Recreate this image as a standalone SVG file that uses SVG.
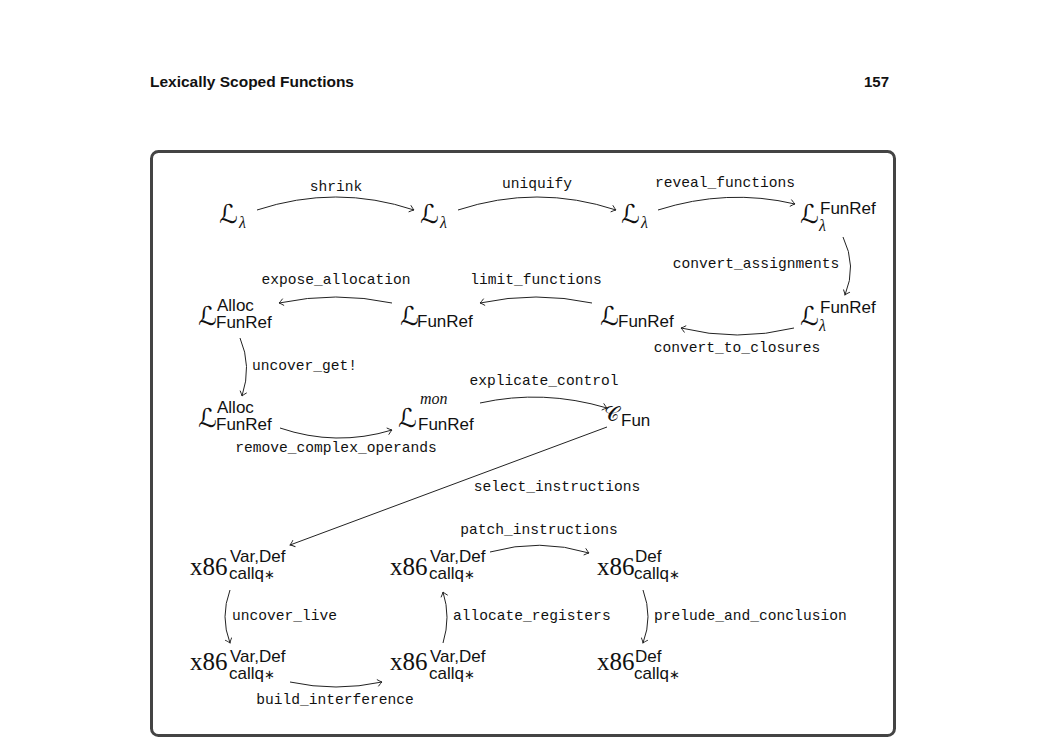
<svg xmlns="http://www.w3.org/2000/svg" width="1050" height="753" viewBox="0 0 1050 753">
<defs>
<style>
.cal{font-family:"DejaVu Serif","DejaVu Sans",serif;font-size:26px;fill:#111}
.calc{font-family:"DejaVu Serif","DejaVu Sans",serif;font-size:21px;fill:#111}
.sf{font-family:"Liberation Sans",Arial,sans-serif;font-size:17px;fill:#111}
.ast{font-size:13px}
.mi{font-family:"Liberation Serif","Times New Roman",serif;font-style:italic;font-size:16px;fill:#111}
.x86{font-family:"Liberation Serif","Times New Roman",serif;font-size:25px;fill:#111}
.lbl{font-family:"Liberation Mono","Courier New",monospace;font-size:14.6px;fill:#111}
.hdr{font-family:"Liberation Sans",Arial,sans-serif;font-weight:bold;font-size:15px;fill:#111}
.edge{fill:none;stroke:#222;stroke-width:1;marker-end:url(#ah)}
</style>
<marker id="ah" markerUnits="userSpaceOnUse" markerWidth="10" markerHeight="10" viewBox="-6 -5 8 10" refX="0" refY="0" orient="auto">
<path d="M-4.5,-3.5 Q-1.5,-0.8 0,0 Q-1.5,0.8 -4.5,3.5" fill="none" stroke="#222" stroke-width="0.9"/>
</marker>
</defs>
<rect width="1050" height="753" fill="#fff"/>
<text class="hdr" x="150" y="87" textLength="204" lengthAdjust="spacingAndGlyphs">Lexically Scoped Functions</text>
<text class="hdr" x="889" y="87" text-anchor="end">157</text>
<rect x="151.5" y="151.5" width="743" height="584" rx="7" fill="none" stroke="#444" stroke-width="3"/>

<g id="n1"><text class="cal" x="219" y="223">ℒ</text><text class="mi" x="239" y="228">λ</text></g>
<g id="n2"><text class="cal" x="420" y="223">ℒ</text><text class="mi" x="440" y="228">λ</text></g>
<g id="n3"><text class="cal" x="621" y="223">ℒ</text><text class="mi" x="641" y="228">λ</text></g>
<g id="n4"><text class="cal" x="800" y="223">ℒ</text><text class="sf" x="820" y="214">FunRef</text><text class="mi" x="819" y="231">λ</text></g>
<g id="n5"><text class="cal" x="800" y="325">ℒ</text><text class="sf" x="820" y="313">FunRef</text><text class="mi" x="819" y="331">λ</text></g>
<g id="n6"><text class="cal" x="600" y="325">ℒ</text><text class="sf" x="618" y="327">FunRef</text></g>
<g id="n7"><text class="cal" x="400" y="325">ℒ</text><text class="sf" x="417" y="327">FunRef</text></g>
<g id="n8"><text class="cal" x="198" y="325">ℒ</text><text class="sf" x="217" y="311">Alloc</text><text class="sf" x="216" y="328">FunRef</text></g>
<g id="n9"><text class="cal" x="198" y="427">ℒ</text><text class="sf" x="217" y="413">Alloc</text><text class="sf" x="216" y="430">FunRef</text></g>
<g id="n10"><text class="cal" x="398" y="427">ℒ</text><text class="mi" x="420" y="404">mon</text><text class="sf" x="418" y="430">FunRef</text></g>
<g id="n11"><text class="calc" x="604" y="421">𝒞</text><text class="sf" x="621" y="426">Fun</text></g>
<g id="n12"><text class="x86" x="190" y="575">x86</text><text class="sf" x="230" y="562">Var,Def</text><text class="sf" x="229" y="579">callq<tspan class="ast">∗</tspan></text></g>
<g id="n13"><text class="x86" x="390" y="575">x86</text><text class="sf" x="430" y="562">Var,Def</text><text class="sf" x="429" y="579">callq<tspan class="ast">∗</tspan></text></g>
<g id="n14"><text class="x86" x="597" y="575">x86</text><text class="sf" x="635" y="562">Def</text><text class="sf" x="634" y="579">callq<tspan class="ast">∗</tspan></text></g>
<g id="n15"><text class="x86" x="190" y="670">x86</text><text class="sf" x="230" y="662">Var,Def</text><text class="sf" x="229" y="679">callq<tspan class="ast">∗</tspan></text></g>
<g id="n16"><text class="x86" x="390" y="670">x86</text><text class="sf" x="430" y="662">Var,Def</text><text class="sf" x="429" y="679">callq<tspan class="ast">∗</tspan></text></g>
<g id="n17"><text class="x86" x="597" y="670">x86</text><text class="sf" x="635" y="662">Def</text><text class="sf" x="634" y="679">callq<tspan class="ast">∗</tspan></text></g>

<g id="connectors">
<path class="edge" d="M257,210 Q336,184 414,210"/>
<path class="edge" d="M458,210 Q537,184 616,210"/>
<path class="edge" d="M658,210 Q727,188 795,204"/>
<path class="edge" d="M843,237 Q857,266 845,295"/>
<path class="edge" d="M794,328 Q737,342 681,328"/>
<path class="edge" d="M592,303 Q536,291 480,303"/>
<path class="edge" d="M392,303 Q336,291 279,303"/>
<path class="edge" d="M240,338 Q252,366 242,396"/>
<path class="edge" d="M280,428 Q336,447 392,430"/>
<path class="edge" d="M480,403 Q543,389 607,408"/>
<path class="edge" d="M607,427 L290,545"/>
<path class="edge" d="M490,552 Q540,538 589,553"/>
<path class="edge" d="M230,590 Q220,617 230,643"/>
<path class="edge" d="M443,643 Q451,617 443,592"/>
<path class="edge" d="M643,590 Q653,617 643,643"/>
<path class="edge" d="M290,682 Q336,692 382,682"/>
</g>

<g id="labels">
<text class="lbl" x="336" y="191" text-anchor="middle">shrink</text>
<text class="lbl" x="537" y="188" text-anchor="middle">uniquify</text>
<text class="lbl" x="725" y="187" text-anchor="middle">reveal_functions</text>
<text class="lbl" x="756" y="268" text-anchor="middle">convert_assignments</text>
<text class="lbl" x="737" y="352" text-anchor="middle">convert_to_closures</text>
<text class="lbl" x="336" y="284" text-anchor="middle">expose_allocation</text>
<text class="lbl" x="536" y="284" text-anchor="middle">limit_functions</text>
<text class="lbl" x="252" y="370">uncover_get!</text>
<text class="lbl" x="544" y="385" text-anchor="middle">explicate_control</text>
<text class="lbl" x="336" y="452" text-anchor="middle">remove_complex_operands</text>
<text class="lbl" x="557" y="491" text-anchor="middle">select_instructions</text>
<text class="lbl" x="539" y="534" text-anchor="middle">patch_instructions</text>
<text class="lbl" x="232" y="620">uncover_live</text>
<text class="lbl" x="453" y="620">allocate_registers</text>
<text class="lbl" x="654" y="620">prelude_and_conclusion</text>
<text class="lbl" x="335" y="704" text-anchor="middle">build_interference</text>
</g>
</svg>
